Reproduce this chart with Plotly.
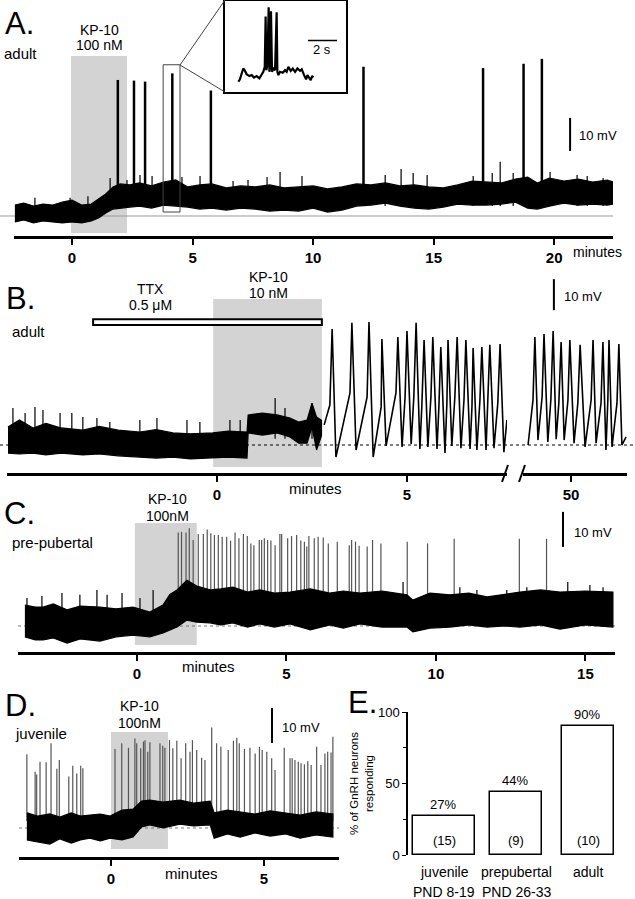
import plotly.graph_objects as go

W, H = 635, 899
FONT = "Liberation Sans, Arial, sans-serif"
NARROW = "Liberation Sans Narrow, Arial Narrow, Liberation Sans, sans-serif"

# ======================= DATA =======================
# Panel A  (adult, KP-10 100 nM) : minutes / mV above baseline
a_env_t = [-2.37, -2.0, -1.6, -1.2, -0.8, -0.4, 0.0, 0.4, 0.8, 1.1, 1.4, 1.7, 2.0, 2.4, 2.8, 3.3, 3.8, 4.3, 4.8, 5.3,
           5.8, 6.4, 7.0, 7.6, 8.2, 8.8, 9.4, 10.0, 10.6, 11.2, 11.8, 12.4, 13.0, 13.6, 14.2, 14.8, 15.4, 16.0, 16.6, 17.2,
           17.8, 18.4, 18.9, 19.3, 19.8, 20.4, 21.0, 21.6, 22.2, 22.45]
a_env_hi = [3.3, 3.9, 3.0, 3.6, 3.3, 4.2, 4.8, 3.3, 3.6, 5.2, 6.7, 8.8, 9.7, 9.4, 10.0, 9.1, 10.3, 10.9, 8.8, 9.4,
            9.7, 8.5, 9.1, 8.8, 9.4, 8.5, 8.8, 9.1, 8.2, 8.8, 9.7, 9.4, 10.0, 9.1, 9.4, 8.8, 8.5, 9.4, 10.6, 10.3,
            10.0, 11.2, 11.8, 10.0, 11.5, 10.6, 11.2, 10.3, 10.9, 10.3]
a_env_lo = [-1.8, -1.2, -2.1, -1.5, -1.8, -2.1, -1.8, -2.1, -1.5, -0.6, 0.9, 2.1, 2.4, 2.7, 3.0, 2.4, 3.3, 3.0, 2.7, 2.1,
            2.4, 1.8, 2.4, 2.1, 1.5, 1.8, 1.5, 2.4, 1.2, 1.8, 3.0, 3.3, 3.9, 3.0, 2.4, 2.1, 2.7, 3.6, 3.3, 3.3,
            3.6, 4.2, 2.4, 2.1, 3.0, 3.9, 3.3, 3.6, 3.3, 3.6]
a_spike_t = [1.90, 2.57, 3.03, 4.16, 5.76, 12.09, 17.05, 18.73, 19.49]
a_spike_v = [41.2, 41.0, 40.7, 43.2, 38.0, 45.2, 44.8, 46.1, 47.6]
a_small_t = [-1.54, -0.08, 0.66, 1.58, 2.28, 2.82, 3.32, 4.56, 5.31, 6.68, 7.30, 8.09, 8.63, 9.54, 12.99, 13.65,
             14.15, 14.73, 16.64, 17.43, 17.76, 18.30, 19.83, 20.95, 21.37, 22.03]
a_small_v = [5.5, 5.5, 6.0, 11.5, 10.9, 12.4, 12.1, 11.8, 12.1, 10.6, 10.9, 11.8, 13.3, 12.1, 12.4, 14.2,
             13.0, 12.4, 12.1, 13.0, 16.4, 13.0, 13.3, 12.4, 12.1, 11.5]
a_kp = [-0.04, 2.28]
a_zoom_t = [3.78, 4.48]
a_ticks = [0, 5, 10, 15, 20]

# Inset (expanded trace, seconds / mV)
inset_t = [0.92, 1.03, 1.15, 1.26, 1.38, 1.49, 1.68, 1.84, 2.00, 2.18, 2.37, 2.53, 2.64, 2.74, 2.80, 2.85, 2.92, 3.01,
           3.06, 3.10, 3.17, 3.24, 3.33, 3.45, 3.56, 3.61, 3.68, 3.79, 3.98, 4.14, 4.25, 4.37, 4.53, 4.67, 4.83, 4.99,
           5.17, 5.29, 5.45, 5.59, 5.68, 5.82, 5.91, 6.00, 6.09]
inset_v = [-0.9, 0.4, 3.6, 6.3, 5.0, 3.2, 2.2, 2.7, 1.4, 2.2, 0.9, 2.7, 4.5, 7.2, 34.6, 5.4, 8.1, 39.6,
           4.5, 7.2, 37.5, 4.5, 6.3, 5.4, 36.9, 4.5, 2.7, 4.5, 4.0, 5.4, 4.5, 7.2, 5.0, 6.3, 4.5, 6.3,
           5.0, 5.8, 2.7, 0.4, 2.7, 1.4, 0.0, 2.2, 1.4]

# Panel B  (adult, TTX + KP-10 10 nM)
b_env_t = [-5.50, -5.2, -4.84, -4.5, -4.1, -3.53, -3.1, -2.6, -2.03, -1.6, -1.16, -0.7, -0.11, 0.3, 0.79, 0.82,
           1.2, 1.58, 1.92, 2.15, 2.37, 2.50, 2.62, 2.75]
b_env_hi = [5.8, 8.1, 5.5, 7.0, 5.5, 4.8, 6.0, 4.8, 4.2, 5.0, 3.9, 3.6, 3.9, 4.5, 4.2, 9.7,
            10.3, 9.7, 8.7, 7.4, 8.0, 13.5, 9.0, 8.0]
b_env_lo = [-2.6, -2.9, -2.6, -3.2, -2.6, -3.2, -2.9, -3.5, -3.9, -4.2, -3.9, -4.5, -4.2, -3.9, -4.2, 3.9,
            3.2, 3.9, 2.6, 0.6, 0.6, 5.8, -1.6, 3.0]
b_small_t = [-5.37, -5.05, -4.79, -4.58, -4.13, -3.82, -3.53, -3.16, -2.82, -2.03, -1.58, -0.79, -0.45, 0.34, 0.61,
             1.53, 1.79, 2.50]
b_small_v = [11.9, 10.3, 12.3, 11.3, 10.3, 10.3, 9.0, 8.7, 7.4, 8.1, 8.7, 8.1, 7.4, 8.1, 8.1, 15.2, 11.9, 13.5]
b_osc_t = [2.82, 2.97, 3.03, 3.13, 3.50, 3.55, 3.66, 3.95, 4.00, 4.11, 4.32, 4.34, 4.45, 4.71, 4.76, 4.87, 4.95, 5.00,
           5.11, 5.18, 5.24, 5.34, 5.39, 5.45, 5.55, 5.63, 5.68, 5.79, 5.84, 5.89, 6.00, 6.05, 6.08, 6.18, 6.26, 6.32,
           6.42, 6.50, 6.55, 6.66, 6.71, 6.74, 6.84, 6.92, 6.97, 7.08, 7.13, 7.18, 7.29, 7.39, 7.45, 7.55, 7.63]
b_osc_v = [6.5, 12.9, 37.4, -3.9, 16.8, 39.4, -1.6, 15.5, 39.7, -3.9, 12.3, 34.2, -0.3, 16.8, 34.8, -0.6, 15.5, 36.8,
           0.3, 15.5, 39.4, -1.3, 12.3, 33.9, -0.6, 15.5, 34.8, -1.3, 12.3, 31.6, -2.6, 13.5, 33.9, -0.3, 15.5, 34.8,
           -1.0, 14.5, 33.9, -1.3, 12.3, 31.3, -1.6, 14.5, 31.6, -1.6, 15.5, 32.3, -1.0, 13.5, 32.6, -2.3, 8.1]
b2_osc_t = [48.87, 49.00, 49.05, 49.13, 49.24, 49.29, 49.39, 49.47, 49.53, 49.61, 49.68, 49.74, 49.82, 49.92, 49.97,
            50.08, 50.18, 50.24, 50.37, 50.53, 50.58, 50.66, 50.79, 50.84, 50.92, 50.97, 51.00, 51.08, 51.21, 51.26,
            51.34, 51.45]
b2_osc_v = [0.0, 14.5, 34.8, 1.6, 15.5, 35.8, 1.0, 14.5, 36.8, 1.9, 13.5, 33.2, 1.6, 14.5, 33.9,
            0.6, 13.5, 32.3, -0.6, 14.5, 33.9, 0.6, 13.5, 33.2, -1.6, 14.5, 33.9, -0.6, 13.5, 32.6,
            0.0, 2.6]
b_ttx = [-3.26, 2.76]
b_kp = [-0.1, 2.76]
b_ticks_left = [0, 5]
b_ticks_right = [50]

# Panel C  (pre-pubertal, KP-10 100nM)
c_env_t = [-3.75, -3.4, -3.14, -2.8, -2.34, -1.9, -1.24, -0.7, -0.13, 0.43, 0.87, 1.1, 1.34, 1.67, 2.0, 2.44, 2.8,
           3.21, 3.7, 4.11, 4.6, 5.12, 5.8, 6.45, 6.9, 7.46, 8.2, 9.03, 9.23, 9.8, 10.47, 11.1, 11.71, 12.3, 12.81,
           13.5, 14.15, 15.0, 15.92]
c_env_hi = [6.0, 5.4, 5.4, 6.3, 4.6, 5.7, 5.4, 4.9, 5.4, 4.0, 6.0, 9.0, 10.3, 13.1, 11.4, 10.3, 10.6, 11.1, 9.7, 10.3,
            9.4, 9.7, 10.6, 9.4, 10.0, 9.4, 10.0, 8.9, 7.4, 9.4, 8.9, 9.4, 8.3, 9.1, 9.7, 10.3, 9.7, 10.0, 9.7]
c_env_lo = [-3.1, -4.0, -4.0, -3.4, -4.9, -3.7, -4.3, -3.1, -2.6, -3.1, -2.0, -1.1, -0.3, 1.7, 1.1, 0.9, 0.3, 0.9,
            -0.3, 0.6, -0.3, 0.6, -1.1, 0.3, -0.6, 0.6, -0.3, -0.3, -1.7, -0.6, -0.3, 0.3, -0.3, 0.0, -0.3, 0.3,
            -0.9, 0.3, -0.3]
c_small_t = [-3.68, -3.18, -2.51, -1.91, -1.34, -1.00, -0.50, 0.10, 0.54, 8.90, 10.80, 11.37, 12.37, 13.04, 13.38,
             14.41, 15.15, 15.59]
c_small_v = [8.0, 8.6, 9.4, 8.9, 10.3, 8.9, 9.4, 8.0, 10.3, 12.6, 11.1, 10.3, 10.3, 11.1, 10.3, 12.6, 11.7, 11.1]
c_spike_t = [1.38, 1.49, 1.64, 1.75, 1.88, 2.05, 2.22, 2.35, 2.47, 2.59, 2.72, 2.85, 3.00, 3.13, 3.28, 3.41, 3.56,
             3.69, 3.81, 3.91, 4.09, 4.17, 4.26, 4.37, 4.48, 4.62, 4.78, 4.84, 5.04, 5.17, 5.34, 5.48, 5.60, 5.68,
             5.75, 5.93, 6.06, 6.23, 6.40, 6.70, 7.10, 7.18, 7.31, 7.43, 7.70, 7.88, 8.16, 9.04, 9.72, 10.61,
             12.79, 13.70]
c_spike_v = [26.7, 26.9, 26.7, 27.9, 24.6, 26.3, 26.3, 27.6, 26.5, 26.0, 26.0, 25.5, 25.5, 24.4, 26.7, 25.1, 26.3,
             25.7, 23.6, 23.1, 24.6, 24.6, 25.1, 24.6, 24.4, 23.1, 26.3, 26.3, 25.1, 25.7, 26.0, 24.4, 24.1, 22.7,
             25.7, 25.1, 25.5, 25.3, 23.6, 24.1, 23.1, 24.6, 24.1, 22.9, 22.7, 24.6, 23.6, 24.1, 23.6, 24.9,
             24.9, 24.9]
c_kp = [-0.07, 2.0]
c_ticks = [0, 5, 10, 15]

# Panel D  (juvenile, KP-10 100nM)
d_env_t = [-2.75, -2.4, -2.0, -1.67, -1.3, -1.0, -0.69, -0.35, -0.03, 0.36, 0.72, 1.0, 1.27, 1.7, 2.25, 2.7, 3.24,
           3.37, 3.8, 4.22, 4.7, 5.20, 5.7, 6.18, 6.7, 7.25]
d_env_hi = [4.3, 3.4, 4.0, 3.1, 4.3, 3.4, 3.7, 4.0, 3.4, 5.1, 5.4, 7.7, 8.0, 7.4, 8.0, 7.1, 7.7,
            4.3, 5.1, 4.6, 4.0, 4.9, 4.3, 3.7, 4.6, 4.0]
d_env_lo = [-3.4, -4.0, -4.6, -3.1, -4.3, -3.4, -2.9, -3.7, -2.9, -3.4, -2.6, 0.3, 0.9, 0.0, 1.1, 0.6, 0.9,
            -2.9, -1.7, -2.6, -1.4, -2.3, -1.7, -2.9, -2.0, -2.6]
d_spike_t = [-2.75, -2.48, -2.43, -2.32, -2.12, -1.96, -1.77, -1.69, -1.38, -1.25, -1.12, -0.99, -0.92, 0.13, 0.35,
             0.57, 0.78, 0.84, 0.97, 1.06, 1.11, 1.20, 1.27, 1.60, 1.69, 1.76, 1.91, 2.02, 2.15,
             2.29, 2.44, 2.58, 2.66, 2.80, 2.96, 3.07, 3.29, 3.45, 3.59, 3.83, 4.00, 4.11, 4.19, 4.36, 4.54, 4.71,
             4.85, 4.94, 5.09, 5.25, 5.36, 5.66, 5.85, 5.92, 6.01, 6.12, 6.21, 6.32, 6.43, 6.54, 6.72, 6.86, 6.99,
             7.08, 7.19, 7.25]
d_spike_v = [21.1, 16.1, 15.3, 18.9, 18.8, 24.2, 16.9, 19.4, 14.7, 17.8, 15.6, 17.8, 17.1, 22.6, 24.2,
             22.9, 25.6, 24.2, 22.8, 24.7, 25.1, 21.8, 24.5, 24.2, 23.5, 22.9, 25.1, 22.8, 24.9,
             19.9, 24.2, 21.8, 25.1, 22.3, 20.1, 19.4, 28.7, 24.2, 23.2, 22.3, 24.9, 25.8, 24.2, 22.6, 22.9, 21.3,
             23.2, 22.3, 21.8, 19.9, 16.6, 22.9, 19.9, 19.9, 19.4, 18.9, 18.5, 18.2, 19.1, 18.0, 23.2, 18.0, 21.3,
             21.8, 21.6, 26.1]
d_kp = [0.0, 1.86]
d_ticks = [0, 5]

# Panel E  (% of GnRH neurons responding)
e_groups = ["juvenile", "prepubertal", "adult"]
e_ages = ["PND 8-19", "PND 26-33", ""]
e_pct = [27, 44, 90]
e_n = [15, 9, 10]


# ======================= HELPERS =======================
def px(x):
    return x / W


def py(y):
    return 1 - y / H


def band(t, hi, lo, xa, ya):
    return go.Scatter(x=t + t[::-1], y=hi + lo[::-1], mode="lines", fill="toself", fillcolor="black",
                      line=dict(color="black", width=1.2), xaxis=xa, yaxis=ya, showlegend=False, hoverinfo="skip")


def spikes(t, v, base, xa, ya, color, width):
    xs, ys = [], []
    for ti, vi in zip(t, v):
        xs += [ti, ti, None]
        ys += [base, vi, None]
    return go.Scatter(x=xs, y=ys, mode="lines", line=dict(color=color, width=width), xaxis=xa, yaxis=ya,
                      showlegend=False, hoverinfo="skip")


def txt(x, y, s, size=14, xanchor="center", family=FONT, weight="normal"):
    return dict(x=px(x), y=py(y), xref="paper", yref="paper", text=s, showarrow=False, xanchor=xanchor,
                yanchor="middle", font=dict(size=size, family=family, color="black", weight=weight))


fig = go.Figure()

# ---- Panel A traces
fig.add_trace(spikes(a_spike_t, a_spike_v, 6, "x", "y", "black", 2.5))
fig.add_trace(spikes(a_small_t, a_small_v, 3, "x", "y", "black", 1.2))
fig.add_trace(band(a_env_t, a_env_hi, a_env_lo, "x", "y"))
# ---- Inset
fig.add_trace(go.Scatter(x=inset_t, y=inset_v, mode="lines", line=dict(color="black", width=2.2),
                         xaxis="x2", yaxis="y2", showlegend=False, hoverinfo="skip"))
# ---- Panel B
fig.add_trace(spikes(b_small_t, b_small_v, 2, "x3", "y3", "black", 1.2))
fig.add_trace(band(b_env_t, b_env_hi, b_env_lo, "x3", "y3"))
fig.add_trace(go.Scatter(x=b_osc_t, y=b_osc_v, mode="lines", line=dict(color="black", width=1.6),
                         xaxis="x3", yaxis="y3", showlegend=False, hoverinfo="skip"))
fig.add_trace(go.Scatter(x=b2_osc_t, y=b2_osc_v, mode="lines", line=dict(color="black", width=1.6),
                         xaxis="x4", yaxis="y4", showlegend=False, hoverinfo="skip"))
# ---- Panel C
fig.add_trace(spikes(c_spike_t, c_spike_v, 4, "x5", "y5", "#555555", 1.2))
fig.add_trace(spikes(c_small_t, c_small_v, 2, "x5", "y5", "black", 1.2))
fig.add_trace(band(c_env_t, c_env_hi, c_env_lo, "x5", "y5"))
# ---- Panel D
fig.add_trace(spikes(d_spike_t, d_spike_v, 2, "x6", "y6", "#555555", 1.2))
fig.add_trace(band(d_env_t, d_env_hi, d_env_lo, "x6", "y6"))
# ---- Panel E
fig.add_trace(go.Bar(x=e_groups, y=e_pct, text=[f"{p}%" for p in e_pct], textposition="outside",
                     textfont=dict(size=13, family=FONT, color="black"), cliponaxis=False,
                     width=[0.86, 0.72, 0.72],
                     marker=dict(color="white", line=dict(color="black", width=1.5)),
                     xaxis="x7", yaxis="y7", showlegend=False, hoverinfo="skip"))

# ======================= AXES =======================
trace_x = dict(showline=True, linecolor="black", linewidth=2.5, ticks="outside", ticklen=6, tickwidth=2,
               tickcolor="black", showgrid=False, zeroline=False, automargin=False,
               tickfont=dict(size=15, family=FONT, color="black", weight="bold"))
hidden_y = dict(visible=False, showgrid=False, zeroline=False, automargin=False)

fig.update_layout(
    width=W, height=H, margin=dict(l=0, r=0, t=0, b=0, pad=0, autoexpand=False), autosize=False,
    paper_bgcolor="white", plot_bgcolor="white", showlegend=False, bargap=0,
    font=dict(family=FONT, color="black"),
    # A
    xaxis=dict(domain=[px(14), px(613)], range=[-2.407, 22.44], anchor="y", tickvals=a_ticks, **trace_x),
    yaxis=dict(domain=[py(236), py(40)], range=[-6.06, 53.3], anchor="x", **hidden_y),
    # inset
    xaxis2=dict(domain=[px(225), px(346)], range=[0, 8.34], anchor="y2", showline=True, mirror=True,
                linecolor="black", linewidth=1.5, showticklabels=False, ticks="", showgrid=False, zeroline=False,
                automargin=False),
    yaxis2=dict(domain=[py(92), py(0.7)], range=[-6.49, 43.24], anchor="x2", showline=True, mirror=True,
                linecolor="black", linewidth=1.5, showticklabels=False, ticks="", showgrid=False, zeroline=False,
                automargin=False),
    # B
    xaxis3=dict(domain=[px(7), px(507)], range=[-5.526, 7.632], anchor="y3", tickvals=b_ticks_left, **trace_x),
    yaxis3=dict(domain=[py(473), py(275)], range=[-9.03, 54.84], anchor="x3", **hidden_y),
    xaxis4=dict(domain=[px(523), px(627)], range=[48.737, 51.474], anchor="y4", tickvals=b_ticks_right, **trace_x),
    yaxis4=dict(domain=[py(473), py(275)], range=[-9.03, 54.84], anchor="x4", **hidden_y),
    # C
    xaxis5=dict(domain=[px(18), px(615)], range=[-3.98, 15.99], anchor="y5", tickvals=c_ticks, **trace_x),
    yaxis5=dict(domain=[py(652), py(505)], range=[-7.43, 34.57], anchor="x5", **hidden_y),
    # D
    xaxis6=dict(domain=[px(19), px(339)], range=[-3.007, 7.45], anchor="y6", tickvals=d_ticks, **trace_x),
    yaxis6=dict(domain=[py(857), py(700)], range=[-8.29, 36.57], anchor="x6", **hidden_y),
    # E
    xaxis7=dict(domain=[px(408), px(624)], anchor="y7", type="category", range=[-0.5, 2.5], showline=False,
                ticks="", showgrid=False, zeroline=False, showticklabels=False, automargin=False),
    yaxis7=dict(domain=[py(855), py(712)], range=[0, 100], anchor="x7", showline=True, linecolor="black",
                linewidth=1.5, ticks="outside", ticklen=4, tickwidth=1.2, tickcolor="black",
                tickvals=[0, 50, 100], showgrid=False, zeroline=False, automargin=False,
                tickfont=dict(size=13, family=FONT, color="black"),
                minor=dict(tickvals=[25, 75], ticks="outside", ticklen=3, tickcolor="black"),
                title=dict(text="% of GnRH neurons<br>responding", standoff=2,
                           font=dict(size=11.5, family=FONT, color="black"))),
)

# ======================= SHAPES =======================
shapes = []
gray = "#d3d3d3"
# drug application shading
shapes.append(dict(type="rect", xref="x", yref="y domain", x0=a_kp[0], x1=a_kp[1], y0=0.015, y1=0.918,
                   fillcolor=gray, line=dict(width=0), layer="below"))
shapes.append(dict(type="rect", xref="x3", yref="y3 domain", x0=b_kp[0], x1=b_kp[1], y0=0.03, y1=0.879,
                   fillcolor=gray, line=dict(width=0), layer="below"))
shapes.append(dict(type="rect", xref="x5", yref="y5 domain", x0=c_kp[0], x1=c_kp[1], y0=0.048, y1=0.878,
                   fillcolor=gray, line=dict(width=0), layer="below"))
shapes.append(dict(type="rect", xref="x6", yref="y6 domain", x0=d_kp[0], x1=d_kp[1], y0=0.051, y1=0.796,
                   fillcolor=gray, line=dict(width=0), layer="below"))
# TTX bar
shapes.append(dict(type="rect", xref="x3", yref="y3", x0=b_ttx[0], x1=b_ttx[1], y0=38.7, y1=40.6,
                   fillcolor="white", line=dict(color="black", width=2)))
# baselines
shapes.append(dict(type="line", xref="paper", yref="y", x0=0, x1=px(613), y0=0, y1=0,
                   line=dict(color="#9a9a9a", width=1), layer="below"))
shapes.append(dict(type="line", xref="paper", yref="y3", x0=0, x1=1, y0=0, y1=0,
                   line=dict(color="black", width=1, dash="dot"), layer="below"))
shapes.append(dict(type="line", xref="paper", yref="y5", x0=px(18), x1=px(615), y0=0, y1=0,
                   line=dict(color="#777777", width=1, dash="dot"), layer="below"))
shapes.append(dict(type="line", xref="paper", yref="y6", x0=px(19), x1=px(339), y0=0, y1=0,
                   line=dict(color="#777777", width=1, dash="dot"), layer="below"))
# 10 mV scale bars
shapes.append(dict(type="line", xref="x", yref="y", x0=20.66, x1=20.66, y0=19.7, y1=29.7,
                   line=dict(color="black", width=2)))
shapes.append(dict(type="line", xref="x4", yref="y4", x0=49.55, x1=49.55, y0=43.5, y1=53.5,
                   line=dict(color="black", width=2)))
shapes.append(dict(type="line", xref="x5", yref="y5", x0=14.25, x1=14.25, y0=22.6, y1=32.6,
                   line=dict(color="black", width=2)))
shapes.append(dict(type="line", xref="x6", yref="y6", x0=5.26, x1=5.26, y0=24.3, y1=34.3,
                   line=dict(color="black", width=2)))
# 2 s scale bar (inset)
shapes.append(dict(type="line", xref="x2", yref="y2", x0=5.72, x1=7.72, y0=21.6, y1=21.6,
                   line=dict(color="black", width=1.5)))
# zoom box and connectors (panel A)
shapes.append(dict(type="rect", xref="x", yref="y", x0=a_zoom_t[0], x1=a_zoom_t[1], y0=1.2, y1=45.8,
                   line=dict(color="#444444", width=1)))
shapes.append(dict(type="line", xref="paper", yref="paper", x0=px(180), y0=py(65), x1=px(225), y1=py(0),
                   line=dict(color="#444444", width=1)))
shapes.append(dict(type="line", xref="paper", yref="paper", x0=px(180), y0=py(65), x1=px(225), y1=py(92),
                   line=dict(color="#444444", width=1)))
# axis break marks (panel B)
shapes.append(dict(type="line", xref="paper", yref="paper", x0=px(502), y0=py(482), x1=px(508), y1=py(465),
                   line=dict(color="black", width=2)))
shapes.append(dict(type="line", xref="paper", yref="paper", x0=px(519), y0=py(482), x1=px(525), y1=py(465),
                   line=dict(color="black", width=2)))
fig.update_layout(shapes=shapes)

# ======================= TEXT =======================
ann = [
    txt(3, 24, "A.", size=31, xanchor="left"),
    txt(2, 54, "adult", size=15, xanchor="left"),
    txt(99, 30, "KP-10", size=14),
    txt(99, 45, "100 nM", size=14),
    txt(322, 49, "2 s", size=13),
    txt(577, 136, "10 mV", size=13, xanchor="left"),
    txt(571, 252, "minutes", size=14, xanchor="left"),

    txt(4, 298, "B.", size=31, xanchor="left"),
    txt(10, 331, "adult", size=15, xanchor="left"),
    txt(150, 289, "TTX", size=14),
    txt(150, 305, "0.5 \u03bcM", size=14),
    txt(268, 277, "KP-10", size=14),
    txt(268, 293, "10 nM", size=14),
    txt(562, 297, "10 mV", size=13, xanchor="left"),
    txt(287, 488, "minutes", size=15, xanchor="left"),

    txt(2, 513, "C.", size=31, xanchor="left"),
    txt(10, 542, "pre-pubertal", size=15, xanchor="left"),
    txt(167, 499, "KP-10", size=14),
    txt(167, 516, "100nM", size=14),
    txt(572, 532, "10 mV", size=13, xanchor="left"),
    txt(180, 666, "minutes", size=15, xanchor="left"),

    txt(3, 705, "D.", size=31, xanchor="left"),
    txt(13, 733, "juvenile", size=15, xanchor="left"),
    txt(139, 706, "KP-10", size=14),
    txt(139, 723, "100nM", size=14),
    txt(280, 727, "10 mV", size=13, xanchor="left"),
    txt(163, 873, "minutes", size=15, xanchor="left"),

    txt(346, 702, "E.", size=31, xanchor="left"),
]
for g, a, n in zip(e_groups, e_ages, e_n):
    ann.append(dict(x=g, y=0, xref="x7", yref="y7", text=f"({n})", showarrow=False, yanchor="bottom",
                    yshift=5, font=dict(size=13, family=FONT, color="black")))
    ann.append(dict(x=g, y=0, xref="x7", yref="y7", text=g, showarrow=False, yanchor="middle",
                    yshift=-17, font=dict(size=14, family=NARROW, color="black")))
    if a:
        ann.append(dict(x=g, y=0, xref="x7", yref="y7", text=a, showarrow=False, yanchor="middle",
                        yshift=-37, font=dict(size=14, family=NARROW, color="black")))
fig.update_layout(annotations=ann)

fig.write_html("out.html", config={"displayModeBar": False},
               post_script="document.body.style.margin='0px';")
